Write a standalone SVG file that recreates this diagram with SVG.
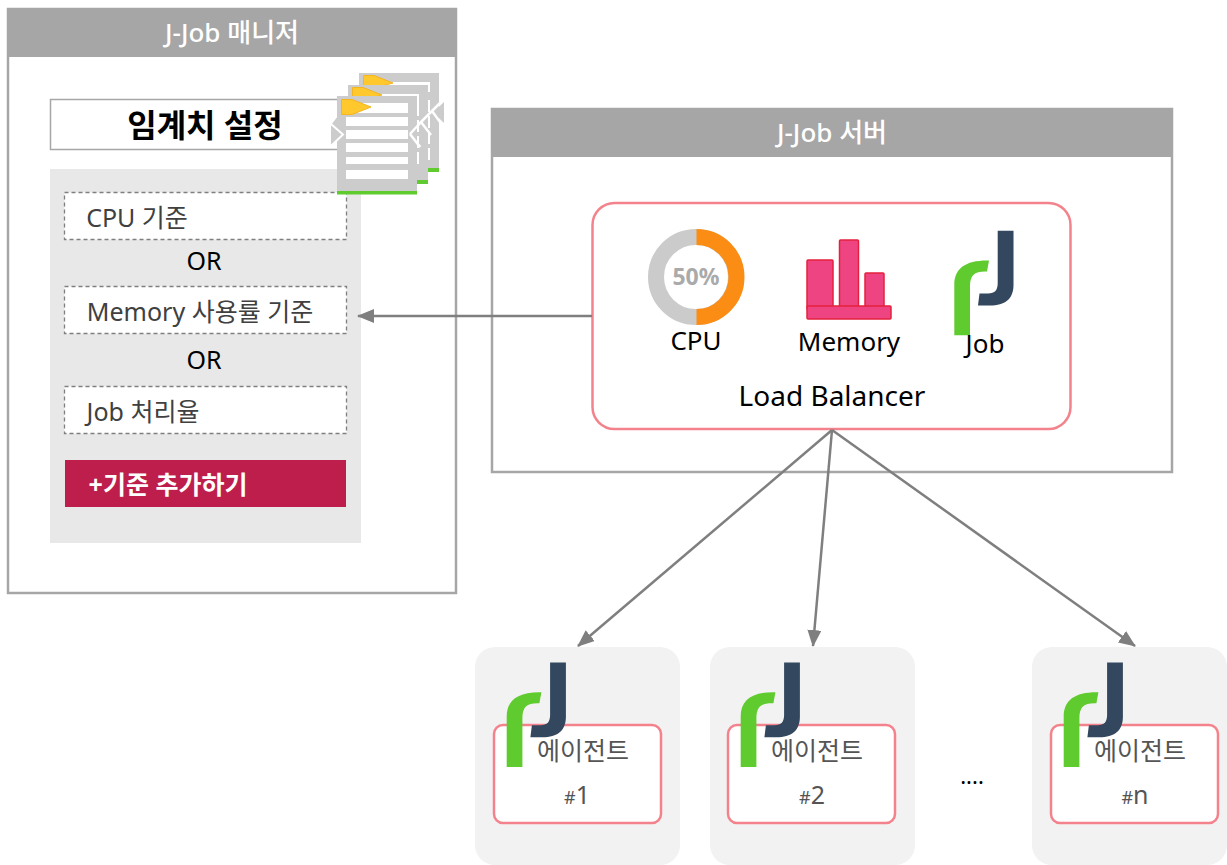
<svg xmlns="http://www.w3.org/2000/svg" xmlns:xlink="http://www.w3.org/1999/xlink" width="1227" height="865" viewBox="0 0 1227 865">
<style>
text{font-family:"Noto Sans","Noto Sans CJK KR",sans-serif;text-anchor:middle}
.panel{fill:#fff;stroke:#a6a6a6;stroke-width:2.5}
.bar{fill:#a6a6a6}
.title{fill:#fff;font-size:26px;font-weight:500}
.crit{fill:#fff;stroke:#7f7f7f;stroke-width:1.3;stroke-dasharray:4 3}
.lbl{fill:#404040;font-size:25px}
.or{fill:#000;font-size:25px}
.blk{fill:#000;font-size:26px}
.pink{fill:#fff;stroke:#f4828c;stroke-width:2.5}
.agent{fill:#f2f2f2}
.ag{fill:#555;font-size:25px}
.conn{stroke:#7f7f7f;stroke-width:2.5;fill:none;marker-end:url(#arr)}
.doc{fill:#ccc}.ln{fill:#fff}.gr{fill:#5fcb2f}.fl{fill:#ffc82d;stroke:#f5b51e;stroke-width:1}
</style>
<defs>
<marker id="arr" markerUnits="userSpaceOnUse" markerWidth="18" markerHeight="14" refX="16" refY="7" orient="auto"><path d="M0 0L17 7L0 14z" fill="#7f7f7f"/></marker>
<g id="logo">
<path d="M954.3 335.3V285C954.3 268 966 260 989 260.5L987 271.5C975 271 970 275 970 286V335.3z" fill="#5fcb2f"/>
<path d="M997.7 230.7H1013.5V285C1013.5 299 1005 305.5 990 305.5H978L979.5 293.5H988C995 293.5 997.7 290 997.7 283z" fill="#33475e"/>
</g>
</defs>

<g id="manager">
<rect class="panel" x="8" y="9" width="448" height="584"/>
<rect class="bar" x="8" y="8" width="449" height="49"/>
<text class="title" x="232" y="42">J-Job 매니저</text>
</g>
<g id="threshold">
<rect x="50.500" y="99.500" width="300" height="50" fill="#fff" stroke="#a6a6a6" stroke-width="1.500"/>
<text x="205" y="137" font-size="32" font-weight="700" fill="#000">임계치 설정</text>
</g>
<g id="criteria">
<rect x="50" y="169" width="311" height="374" fill="#e8e8e8"/>
<rect class="crit" x="64.500" y="192.500" width="282" height="47"/>
<text class="lbl" x="137" y="227">CPU 기준</text>
<text class="or" x="204" y="270">OR</text>
<rect class="crit" x="64.500" y="286.500" width="282" height="47"/>
<text class="lbl" x="200" y="321">Memory 사용률 기준</text>
<text class="or" x="204" y="369">OR</text>
<rect class="crit" x="64.500" y="386.500" width="282" height="47"/>
<text class="lbl" x="143" y="421">Job 처리율</text>
<rect x="65" y="460" width="281" height="47" fill="#be1e4b"/>
<text x="168" y="494" font-size="25" font-weight="700" fill="#fff">+기준 추가하기</text>
</g>
<g id="documents">
<rect class="doc" x="359" y="73" width="80" height="96"/><rect class="gr" x="428" y="168" width="11" height="4"/>
<path d="M363 87L371 78V87z" fill="#fff"/>
<rect class="ln" x="371" y="82" width="59" height="10"/>
<path class="fl" d="M363.500 75.500H374L393 83L374 88H363.500z"/>
<rect class="doc" x="348" y="85" width="80" height="96"/><rect class="gr" x="417" y="180" width="11" height="4"/>
<path d="M352 99L360 90V99z" fill="#fff"/>
<rect class="ln" x="360" y="94" width="59" height="10"/>
<path class="ln" d="M417 104h2v12h-2zM417 120h2v12h-2zM417 136h2v12h-2zM417 152h2v12h-2z"/>
<path class="fl" d="M352.500 87.500H363L382 95L363 100H352.500z"/>
<path d="M428 100h2v12h-2zM428 116h2v12h-2zM428 132h2v12h-2zM428 148h2v12h-2z" fill="#fff"/>
<path d="M331 125L338 134V116z" fill="#ccc" transform="translate(0,0)"/>
<path d="M331 124.500L337 135L331 145z" fill="#ccc"/>
<path d="M331 124L343 134L331 149" fill="none"/>
<path d="M444 102V123L433 112.500z" fill="#ccc"/>
<path d="M432 111L444 99M432 111L440 122M421 122L432 111M421 122L431 135M410 134L421 122M410 134L420 147" stroke="#fff" stroke-width="2.500" fill="none"/>
<rect class="doc" x="337" y="96" width="80" height="96"/>
<rect class="gr" x="337" y="191" width="80" height="3.500"/>
<rect class="ln" x="346" y="103" width="62" height="10"/>
<rect class="ln" x="346" y="117" width="62" height="9"/>
<rect class="ln" x="346" y="130" width="62" height="9"/>
<rect class="ln" x="346" y="143" width="62" height="9"/>
<rect class="ln" x="346" y="157" width="62" height="7"/>
<rect class="ln" x="346" y="170" width="62" height="9"/>
<path class="fl" d="M341.500 99.500H352L371 107L352 114.500H341.500z"/>
<path d="M331 125L343 134.500L331 145z" fill="#ccc"/>
<path d="M331 124L343 134.500L331 146" fill="none" stroke="#fff" stroke-width="2"/>
<path d="M410 134L420 147M410 134L421 122" stroke="#fff" stroke-width="2.500" fill="none"/>
</g>
<g id="server">
<rect class="panel" x="492" y="109" width="680" height="363"/>
<rect class="bar" x="491" y="108" width="682" height="49"/>
<text class="title" x="832" y="142">J-Job 서버</text>
</g>
<g id="load-balancer">
<rect class="pink" x="592.500" y="203" width="478" height="226" rx="22"/>
<circle cx="696" cy="277" r="40" fill="none" stroke="#cbcbcb" stroke-width="16"/>
<path d="M696.500 237A40 40 0 0 1 696.500 317" fill="none" stroke="#fb8c14" stroke-width="16"/>
<text x="696" y="285" font-size="23" font-weight="700" fill="#aaa">50%</text>
<text class="blk" x="696" y="350">CPU</text>
<rect x="807" y="260" width="26" height="49" rx="1" fill="#ee4482" stroke="#e5203e" stroke-width="1.500"/>
<rect x="839.500" y="240" width="19" height="69" rx="1" fill="#ee4482" stroke="#e5203e" stroke-width="1.500"/>
<rect x="865" y="273" width="19" height="36" rx="1" fill="#ee4482" stroke="#e5203e" stroke-width="1.500"/>
<rect x="807" y="306" width="84" height="13" rx="1" fill="#ee4482" stroke="#e5203e" stroke-width="1.500"/>
<text class="blk" x="849" y="351">Memory</text>
<use href="#logo"/>
<text class="blk" x="985" y="353">Job</text>
<text x="832" y="406" font-size="28" fill="#000">Load Balancer</text>
</g>
<g id="agent-1">
<rect class="agent" x="475" y="647" width="205" height="218" rx="20"/>
<rect class="pink" x="494" y="725" width="167" height="98" rx="9"/>
<use href="#logo" x="-447.600" y="431.700"/>
<text class="ag" x="583" y="760">에이전트</text>
<text class="ag" x="577" y="804"><tspan font-size="18">#</tspan>1</text>
</g>
<g id="agent-2">
<rect class="agent" x="710" y="647" width="205" height="218" rx="20"/>
<rect class="pink" x="728" y="725" width="167" height="98" rx="9"/>
<use href="#logo" x="-213.600" y="431.700"/>
<text class="ag" x="817" y="760">에이전트</text>
<text class="ag" x="812" y="804"><tspan font-size="18">#</tspan>2</text>
</g>
<text x="972" y="784" font-size="22" fill="#000">....</text>
<g id="agent-n">
<rect class="agent" x="1032" y="647" width="195" height="218" rx="20"/>
<rect class="pink" x="1051" y="725" width="167" height="98" rx="9"/>
<use href="#logo" x="109.400" y="431.700"/>
<text class="ag" x="1140" y="760">에이전트</text>
<text class="ag" x="1135" y="804"><tspan font-size="18">#</tspan>n</text>
</g>
<g id="connectors">
<path class="conn" d="M592 316H358"/>
<path class="conn" d="M832 430L578 646"/>
<path class="conn" d="M832 430L813 646"/>
<path class="conn" d="M832 430L1135 646"/>
</g>
</svg>
